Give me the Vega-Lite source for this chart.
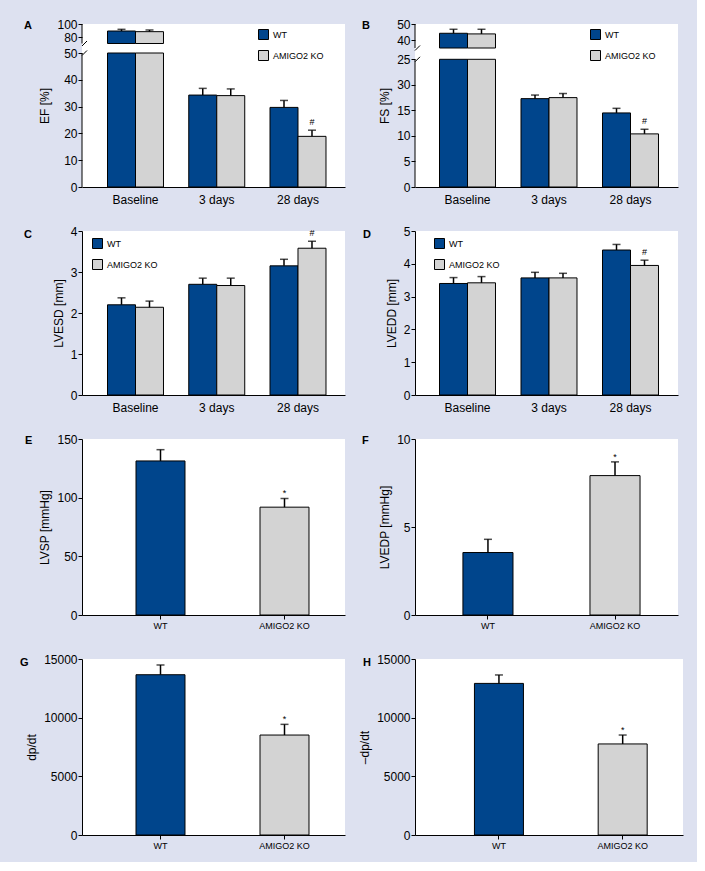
{
  "$schema": "https://vega.github.io/schema/vega-lite/v6.json",
  "background": "#dde1f0",
  "padding": {"left": 20, "top": 18, "right": 14, "bottom": 12},
  "columns": 2,
  "bounds": "flush",
  "align": "none",
  "spacing": {"row": 44, "column": 70},
  "resolve": {"scale": {"color": "independent"}, "legend": {"color": "independent"}},
  "config": {
    "view": {"fill": "white", "stroke": null},
    "font": "Liberation Sans",
    "axis": {"domainColor": "black", "tickColor": "black", "labelColor": "black", "titleColor": "black", "grid": false, "labelFont": "Liberation Sans", "labelFontSize": 12, "labelOverlap": false, "labelSeparation": 0, "titleFont": "Liberation Sans", "titleFontSize": 12, "titleFontWeight": "normal", "tickSize": 4, "labelPadding": 1, "titlePadding": 5},
    "axisY": {"labelOverlap": false},
    "axisQuantitative": {"labelOverlap": false},
    "title": {"font": "Liberation Sans", "fontSize": 11, "fontWeight": "bold", "anchor": "start", "frame": "group", "offset": -13, "color": "black", "baseline": "alphabetic", "dy": 0}
  },
  "datasets": {
    "ef": [
      {"time": "Baseline", "group": "WT", "mean": 89.2, "upper": 91.8, "sig": ""},
      {"time": "Baseline", "group": "AMIGO2 KO", "mean": 88.2, "upper": 90.8, "sig": ""},
      {"time": "3 days", "group": "WT", "mean": 34.3, "upper": 36.8, "sig": ""},
      {"time": "3 days", "group": "AMIGO2 KO", "mean": 34.1, "upper": 36.6, "sig": ""},
      {"time": "28 days", "group": "WT", "mean": 29.7, "upper": 32.3, "sig": ""},
      {"time": "28 days", "group": "AMIGO2 KO", "mean": 18.9, "upper": 21.2, "sig": "#"}
    ],
    "fs": [
      {"time": "Baseline", "group": "WT", "mean": 44.2, "upper": 46.7, "sig": ""},
      {"time": "Baseline", "group": "AMIGO2 KO", "mean": 43.8, "upper": 46.7, "sig": ""},
      {"time": "3 days", "group": "WT", "mean": 17.3, "upper": 18.0, "sig": ""},
      {"time": "3 days", "group": "AMIGO2 KO", "mean": 17.5, "upper": 18.3, "sig": ""},
      {"time": "28 days", "group": "WT", "mean": 14.5, "upper": 15.4, "sig": ""},
      {"time": "28 days", "group": "AMIGO2 KO", "mean": 10.4, "upper": 11.3, "sig": "#"}
    ],
    "lvesd": [
      {"time": "Baseline", "group": "WT", "mean": 2.2, "upper": 2.37, "sig": ""},
      {"time": "Baseline", "group": "AMIGO2 KO", "mean": 2.14, "upper": 2.29, "sig": ""},
      {"time": "3 days", "group": "WT", "mean": 2.7, "upper": 2.85, "sig": ""},
      {"time": "3 days", "group": "AMIGO2 KO", "mean": 2.67, "upper": 2.85, "sig": ""},
      {"time": "28 days", "group": "WT", "mean": 3.15, "upper": 3.31, "sig": ""},
      {"time": "28 days", "group": "AMIGO2 KO", "mean": 3.58, "upper": 3.75, "sig": "#"}
    ],
    "lvedd": [
      {"time": "Baseline", "group": "WT", "mean": 3.4, "upper": 3.58, "sig": ""},
      {"time": "Baseline", "group": "AMIGO2 KO", "mean": 3.42, "upper": 3.61, "sig": ""},
      {"time": "3 days", "group": "WT", "mean": 3.57, "upper": 3.74, "sig": ""},
      {"time": "3 days", "group": "AMIGO2 KO", "mean": 3.57, "upper": 3.71, "sig": ""},
      {"time": "28 days", "group": "WT", "mean": 4.42, "upper": 4.59, "sig": ""},
      {"time": "28 days", "group": "AMIGO2 KO", "mean": 3.95, "upper": 4.11, "sig": "#"}
    ],
    "lvsp": [
      {"group": "WT", "mean": 131.3, "upper": 140.9, "sig": ""},
      {"group": "AMIGO2 KO", "mean": 91.9, "upper": 99.3, "sig": "*"}
    ],
    "lvedp": [
      {"group": "WT", "mean": 3.55, "upper": 4.3, "sig": ""},
      {"group": "AMIGO2 KO", "mean": 7.92, "upper": 8.7, "sig": "*"}
    ],
    "dpdt": [
      {"group": "WT", "mean": 13660, "upper": 14490, "sig": ""},
      {"group": "AMIGO2 KO", "mean": 8520, "upper": 9430, "sig": "*"}
    ],
    "mdpdt": [
      {"group": "WT", "mean": 12920, "upper": 13640, "sig": ""},
      {"group": "AMIGO2 KO", "mean": 7760, "upper": 8520, "sig": "*"}
    ]
  },
  "concat": [
    {
      "width": 263, "height": 163,
      "title": {"text": "A", "dx": -58},
      "layer": [
        {
          "data": {"name": "ef"},
          "encoding": {
            "x": {"field": "time", "type": "nominal", "sort": ["Baseline", "3 days", "28 days"], "title": null, "scale": {"paddingInner": 0.311, "paddingOuter": 0.274, "align": 0.573}, "axis": {"labelAngle": 0, "ticks": false, "tickSize": 0, "labelFontSize": 12, "labelPadding": 7}},
            "xOffset": {"field": "group", "type": "nominal", "sort": ["WT", "AMIGO2 KO"]}
          },
          "layer": [
            {"transform": [{"filter": "datum.mean <= 50"}], "mark": {"type": "bar", "stroke": "black", "strokeWidth": 1},
             "encoding": {"y": {"field": "mean", "type": "quantitative", "title": "EF [%]", "stack": null, "scale": {"domain": [0, 50, 70, 100], "range": [163, 29, 19.5, 0], "nice": false, "zero": false}, "axis": {"values": [0, 10, 20, 30, 40, 50, 80, 100], "domain": false, "labelOverlap": false}}, "y2": {"datum": 0},
                          "color": {"field": "group", "type": "nominal", "scale": {"domain": ["WT", "AMIGO2 KO"], "range": ["#00458c", "#d3d3d3"]}, "legend": {"title": null, "orient": "none", "legendX": 176, "legendY": 5, "symbolType": "square", "symbolSize": 100, "symbolStrokeColor": "black", "symbolStrokeWidth": 1, "labelFontSize": 9, "labelOffset": 4, "rowPadding": 6, "padding": 0}}}},
            {"transform": [{"filter": "datum.mean > 50"}], "mark": {"type": "bar", "stroke": "black", "strokeWidth": 1},
             "encoding": {"y": {"datum": 50, "type": "quantitative", "title": "EF [%]", "axis": {"values": [0, 10, 20, 30, 40, 50, 80, 100], "domain": false, "labelOverlap": false}}, "y2": {"datum": 0},
                          "color": {"field": "group", "type": "nominal", "scale": {"domain": ["WT", "AMIGO2 KO"], "range": ["#00458c", "#d3d3d3"]}, "legend": {"title": null, "orient": "none", "legendX": 176, "legendY": 5, "symbolType": "square", "symbolSize": 100, "symbolStrokeColor": "black", "symbolStrokeWidth": 1, "labelFontSize": 9, "labelOffset": 4, "rowPadding": 6, "padding": 0}}}},
            {"transform": [{"filter": "datum.mean > 70"}], "mark": {"type": "bar", "stroke": "black", "strokeWidth": 1},
             "encoding": {"y": {"field": "mean", "type": "quantitative", "title": "EF [%]", "stack": null, "axis": {"values": [0, 10, 20, 30, 40, 50, 80, 100], "domain": false, "labelOverlap": false}}, "y2": {"datum": 70},
                          "color": {"field": "group", "type": "nominal", "scale": {"domain": ["WT", "AMIGO2 KO"], "range": ["#00458c", "#d3d3d3"]}, "legend": {"title": null, "orient": "none", "legendX": 176, "legendY": 5, "symbolType": "square", "symbolSize": 100, "symbolStrokeColor": "black", "symbolStrokeWidth": 1, "labelFontSize": 9, "labelOffset": 4, "rowPadding": 6, "padding": 0}}}},
            {"mark": {"type": "rule", "color": "black", "strokeWidth": 1.5}, "encoding": {"y": {"field": "mean", "type": "quantitative", "title": "EF [%]", "axis": {"values": [0, 10, 20, 30, 40, 50, 80, 100], "domain": false, "labelOverlap": false}}, "y2": {"field": "upper"}}},
            {"mark": {"type": "tick", "color": "black", "size": 8, "thickness": 1.5, "orient": "horizontal"}, "encoding": {"y": {"field": "upper", "type": "quantitative", "title": "EF [%]", "axis": {"values": [0, 10, 20, 30, 40, 50, 80, 100], "domain": false, "labelOverlap": false}}}},
            {"transform": [{"filter": "datum.sig != ''"}], "mark": {"type": "text", "color": "black", "fontSize": 9, "dy": -5, "baseline": "alphabetic"}, "encoding": {"y": {"field": "upper", "type": "quantitative", "title": "EF [%]", "axis": {"values": [0, 10, 20, 30, 40, 50, 80, 100], "domain": false, "labelOverlap": false}}, "text": {"field": "sig"}}}
          ]
        },
        {"data": {"values": [{}]}, "mark": {"type": "rule", "color": "black", "strokeWidth": 1}, "encoding": {"x": {"value": 0}, "y": {"datum": 0, "type": "quantitative", "axis": {"values": [0, 10, 20, 30, 40, 50, 80, 100], "domain": false, "labelOverlap": false}}, "y2": {"datum": 50}}},
        {"data": {"values": [{}]}, "mark": {"type": "rule", "color": "black", "strokeWidth": 1}, "encoding": {"x": {"value": 0}, "y": {"datum": 70, "type": "quantitative", "axis": {"values": [0, 10, 20, 30, 40, 50, 80, 100], "domain": false, "labelOverlap": false}}, "y2": {"datum": 100}}},
        {"data": {"values": [{}]}, "mark": {"type": "point", "shape": "M0,0.5L1,-0.5", "size": 100, "filled": false, "stroke": "black", "strokeWidth": 1, "opacity": 1}, "encoding": {"x": {"value": 0}, "y": {"datum": 50, "type": "quantitative", "axis": {"values": [0, 10, 20, 30, 40, 50, 80, 100], "domain": false, "labelOverlap": false}}}},
        {"data": {"values": [{}]}, "mark": {"type": "point", "shape": "M0,0.5L1,-0.5", "size": 100, "filled": false, "stroke": "black", "strokeWidth": 1, "opacity": 1}, "encoding": {"x": {"value": 0}, "y": {"datum": 70, "type": "quantitative", "axis": {"values": [0, 10, 20, 30, 40, 50, 80, 100], "domain": false, "labelOverlap": false}}}}
      ]
    },
    {
      "width": 263, "height": 163,
      "title": {"text": "B", "dx": -53},
      "layer": [
        {
          "data": {"name": "fs"},
          "encoding": {
            "x": {"field": "time", "type": "nominal", "sort": ["Baseline", "3 days", "28 days"], "title": null, "scale": {"paddingInner": 0.313, "paddingOuter": 0.27, "align": 0.557}, "axis": {"labelAngle": 0, "ticks": false, "tickSize": 0, "labelFontSize": 12, "labelPadding": 7}},
            "xOffset": {"field": "group", "type": "nominal", "sort": ["WT", "AMIGO2 KO"]}
          },
          "layer": [
            {"transform": [{"filter": "datum.mean <= 25"}], "mark": {"type": "bar", "stroke": "black", "strokeWidth": 1},
             "encoding": {"y": {"field": "mean", "type": "quantitative", "title": "FS [%]", "stack": null, "scale": {"domain": [0, 25, 35, 50], "range": [163, 35.3, 24, 0], "nice": false, "zero": false}, "axis": {"values": [0, 5, 10, 15, 20, 25, 40, 50], "domain": false, "labelOverlap": false, "labelExpr": "datum.value == 20 ? '30' : datum.label"}}, "y2": {"datum": 0},
                          "color": {"field": "group", "type": "nominal", "scale": {"domain": ["WT", "AMIGO2 KO"], "range": ["#00458c", "#d3d3d3"]}, "legend": {"title": null, "orient": "none", "legendX": 175, "legendY": 5, "symbolType": "square", "symbolSize": 100, "symbolStrokeColor": "black", "symbolStrokeWidth": 1, "labelFontSize": 9, "labelOffset": 4, "rowPadding": 6, "padding": 0}}}},
            {"transform": [{"filter": "datum.mean > 25"}], "mark": {"type": "bar", "stroke": "black", "strokeWidth": 1},
             "encoding": {"y": {"datum": 25, "type": "quantitative", "title": "FS [%]", "axis": {"values": [0, 5, 10, 15, 20, 25, 40, 50], "domain": false, "labelOverlap": false, "labelExpr": "datum.value == 20 ? '30' : datum.label"}}, "y2": {"datum": 0},
                          "color": {"field": "group", "type": "nominal", "scale": {"domain": ["WT", "AMIGO2 KO"], "range": ["#00458c", "#d3d3d3"]}, "legend": {"title": null, "orient": "none", "legendX": 175, "legendY": 5, "symbolType": "square", "symbolSize": 100, "symbolStrokeColor": "black", "symbolStrokeWidth": 1, "labelFontSize": 9, "labelOffset": 4, "rowPadding": 6, "padding": 0}}}},
            {"transform": [{"filter": "datum.mean > 35"}], "mark": {"type": "bar", "stroke": "black", "strokeWidth": 1},
             "encoding": {"y": {"field": "mean", "type": "quantitative", "title": "FS [%]", "stack": null, "axis": {"values": [0, 5, 10, 15, 20, 25, 40, 50], "domain": false, "labelOverlap": false, "labelExpr": "datum.value == 20 ? '30' : datum.label"}}, "y2": {"datum": 35},
                          "color": {"field": "group", "type": "nominal", "scale": {"domain": ["WT", "AMIGO2 KO"], "range": ["#00458c", "#d3d3d3"]}, "legend": {"title": null, "orient": "none", "legendX": 175, "legendY": 5, "symbolType": "square", "symbolSize": 100, "symbolStrokeColor": "black", "symbolStrokeWidth": 1, "labelFontSize": 9, "labelOffset": 4, "rowPadding": 6, "padding": 0}}}},
            {"mark": {"type": "rule", "color": "black", "strokeWidth": 1.5}, "encoding": {"y": {"field": "mean", "type": "quantitative", "title": "FS [%]", "axis": {"values": [0, 5, 10, 15, 20, 25, 40, 50], "domain": false, "labelOverlap": false, "labelExpr": "datum.value == 20 ? '30' : datum.label"}}, "y2": {"field": "upper"}}},
            {"mark": {"type": "tick", "color": "black", "size": 8, "thickness": 1.5, "orient": "horizontal"}, "encoding": {"y": {"field": "upper", "type": "quantitative", "title": "FS [%]", "axis": {"values": [0, 5, 10, 15, 20, 25, 40, 50], "domain": false, "labelOverlap": false, "labelExpr": "datum.value == 20 ? '30' : datum.label"}}}},
            {"transform": [{"filter": "datum.sig != ''"}], "mark": {"type": "text", "color": "black", "fontSize": 9, "dy": -5, "baseline": "alphabetic"}, "encoding": {"y": {"field": "upper", "type": "quantitative", "title": "FS [%]", "axis": {"values": [0, 5, 10, 15, 20, 25, 40, 50], "domain": false, "labelOverlap": false, "labelExpr": "datum.value == 20 ? '30' : datum.label"}}, "text": {"field": "sig"}}}
          ]
        },
        {"data": {"values": [{}]}, "mark": {"type": "rule", "color": "black", "strokeWidth": 1}, "encoding": {"x": {"value": 0}, "y": {"datum": 0, "type": "quantitative", "axis": {"values": [0, 5, 10, 15, 20, 25, 40, 50], "domain": false, "labelOverlap": false, "labelExpr": "datum.value == 20 ? '30' : datum.label"}}, "y2": {"datum": 25}}},
        {"data": {"values": [{}]}, "mark": {"type": "rule", "color": "black", "strokeWidth": 1}, "encoding": {"x": {"value": 0}, "y": {"datum": 35, "type": "quantitative", "axis": {"values": [0, 5, 10, 15, 20, 25, 40, 50], "domain": false, "labelOverlap": false, "labelExpr": "datum.value == 20 ? '30' : datum.label"}}, "y2": {"datum": 50}}},
        {"data": {"values": [{}]}, "mark": {"type": "point", "shape": "M0,0.5L1,-0.5", "size": 100, "filled": false, "stroke": "black", "strokeWidth": 1, "opacity": 1}, "encoding": {"x": {"value": 0}, "y": {"datum": 25, "type": "quantitative", "axis": {"values": [0, 5, 10, 15, 20, 25, 40, 50], "domain": false, "labelOverlap": false, "labelExpr": "datum.value == 20 ? '30' : datum.label"}}}},
        {"data": {"values": [{}]}, "mark": {"type": "point", "shape": "M0,0.5L1,-0.5", "size": 100, "filled": false, "stroke": "black", "strokeWidth": 1, "opacity": 1}, "encoding": {"x": {"value": 0}, "y": {"datum": 35, "type": "quantitative", "axis": {"values": [0, 5, 10, 15, 20, 25, 40, 50], "domain": false, "labelOverlap": false, "labelExpr": "datum.value == 20 ? '30' : datum.label"}}}}
      ]
    },
    {
      "width": 263, "height": 164,
      "title": {"text": "C", "dx": -58, "offset": -15},
      "data": {"name": "lvesd"},
      "encoding": {
        "x": {"field": "time", "type": "nominal", "sort": ["Baseline", "3 days", "28 days"], "title": null, "scale": {"paddingInner": 0.311, "paddingOuter": 0.274, "align": 0.573}, "axis": {"labelAngle": 0, "ticks": false, "tickSize": 0, "labelFontSize": 12, "labelPadding": 7}},
        "xOffset": {"field": "group", "type": "nominal", "sort": ["WT", "AMIGO2 KO"]}
      },
      "layer": [
        {"mark": {"type": "bar", "stroke": "black", "strokeWidth": 1},
         "encoding": {"y": {"field": "mean", "type": "quantitative", "title": "LVESD [mm]", "stack": null, "scale": {"domain": [0, 4], "nice": false}, "axis": {"values": [0, 1, 2, 3, 4], "labelOverlap": false}},
                      "color": {"field": "group", "type": "nominal", "scale": {"domain": ["WT", "AMIGO2 KO"], "range": ["#00458c", "#d3d3d3"]}, "legend": {"title": null, "orient": "none", "legendX": 10, "legendY": 7, "symbolType": "square", "symbolSize": 100, "symbolStrokeColor": "black", "symbolStrokeWidth": 1, "labelFontSize": 9, "labelOffset": 4, "rowPadding": 6, "padding": 0}}}},
        {"mark": {"type": "rule", "color": "black", "strokeWidth": 1.5}, "encoding": {"y": {"field": "mean", "type": "quantitative", "title": "LVESD [mm]", "axis": {"values": [0, 1, 2, 3, 4], "labelOverlap": false}}, "y2": {"field": "upper"}}},
        {"mark": {"type": "tick", "color": "black", "size": 8, "thickness": 1.5, "orient": "horizontal"}, "encoding": {"y": {"field": "upper", "type": "quantitative", "title": "LVESD [mm]", "axis": {"values": [0, 1, 2, 3, 4], "labelOverlap": false}}}},
        {"transform": [{"filter": "datum.sig != ''"}], "mark": {"type": "text", "color": "black", "fontSize": 9, "dy": -5, "baseline": "alphabetic"}, "encoding": {"y": {"field": "upper", "type": "quantitative", "title": "LVESD [mm]", "axis": {"values": [0, 1, 2, 3, 4], "labelOverlap": false}}, "text": {"field": "sig"}}}
      ]
    },
    {
      "width": 263, "height": 164,
      "title": {"text": "D", "dx": -52, "offset": -15},
      "data": {"name": "lvedd"},
      "encoding": {
        "x": {"field": "time", "type": "nominal", "sort": ["Baseline", "3 days", "28 days"], "title": null, "scale": {"paddingInner": 0.313, "paddingOuter": 0.27, "align": 0.557}, "axis": {"labelAngle": 0, "ticks": false, "tickSize": 0, "labelFontSize": 12, "labelPadding": 7}},
        "xOffset": {"field": "group", "type": "nominal", "sort": ["WT", "AMIGO2 KO"]}
      },
      "layer": [
        {"mark": {"type": "bar", "stroke": "black", "strokeWidth": 1},
         "encoding": {"y": {"field": "mean", "type": "quantitative", "title": "LVEDD [mm]", "stack": null, "scale": {"domain": [0, 5], "nice": false}, "axis": {"values": [0, 1, 2, 3, 4, 5], "labelOverlap": false}},
                      "color": {"field": "group", "type": "nominal", "scale": {"domain": ["WT", "AMIGO2 KO"], "range": ["#00458c", "#d3d3d3"]}, "legend": {"title": null, "orient": "none", "legendX": 19, "legendY": 7, "symbolType": "square", "symbolSize": 100, "symbolStrokeColor": "black", "symbolStrokeWidth": 1, "labelFontSize": 9, "labelOffset": 4, "rowPadding": 6, "padding": 0}}}},
        {"mark": {"type": "rule", "color": "black", "strokeWidth": 1.5}, "encoding": {"y": {"field": "mean", "type": "quantitative", "title": "LVEDD [mm]", "axis": {"values": [0, 1, 2, 3, 4, 5], "labelOverlap": false}}, "y2": {"field": "upper"}}},
        {"mark": {"type": "tick", "color": "black", "size": 8, "thickness": 1.5, "orient": "horizontal"}, "encoding": {"y": {"field": "upper", "type": "quantitative", "title": "LVEDD [mm]", "axis": {"values": [0, 1, 2, 3, 4, 5], "labelOverlap": false}}}},
        {"transform": [{"filter": "datum.sig != ''"}], "mark": {"type": "text", "color": "black", "fontSize": 9, "dy": -5, "baseline": "alphabetic"}, "encoding": {"y": {"field": "upper", "type": "quantitative", "title": "LVEDD [mm]", "axis": {"values": [0, 1, 2, 3, 4, 5], "labelOverlap": false}}, "text": {"field": "sig"}}}
      ]
    },
    {
      "width": 263, "height": 176,
      "title": {"text": "E", "dx": -57},
      "data": {"name": "lvsp"},
      "encoding": {
        "x": {"field": "group", "type": "nominal", "sort": ["WT", "AMIGO2 KO"], "title": null, "scale": {"paddingInner": 0.605, "paddingOuter": 0.363, "align": 0.6}, "axis": {"labelAngle": 0, "tickSize": 4, "labelFontSize": 9, "labelPadding": 2}}
      },
      "layer": [
        {"mark": {"type": "bar", "stroke": "black", "strokeWidth": 1},
         "encoding": {"y": {"field": "mean", "type": "quantitative", "title": "LVSP [mmHg]", "stack": null, "scale": {"domain": [0, 150], "nice": false}, "axis": {"values": [0, 50, 100, 150]}},
                      "color": {"field": "group", "type": "nominal", "scale": {"domain": ["WT", "AMIGO2 KO"], "range": ["#00458c", "#d3d3d3"]}, "legend": null}}},
        {"mark": {"type": "rule", "color": "black", "strokeWidth": 1.5}, "encoding": {"y": {"field": "mean", "type": "quantitative", "title": "LVSP [mmHg]"}, "y2": {"field": "upper"}}},
        {"mark": {"type": "tick", "color": "black", "size": 8, "thickness": 1.5, "orient": "horizontal"}, "encoding": {"y": {"field": "upper", "type": "quantitative", "title": "LVSP [mmHg]"}}},
        {"transform": [{"filter": "datum.sig != ''"}], "mark": {"type": "text", "color": "black", "fontSize": 9, "dy": -2, "baseline": "alphabetic"}, "encoding": {"y": {"field": "upper", "type": "quantitative", "title": "LVSP [mmHg]"}, "text": {"field": "sig"}}}
      ]
    },
    {
      "width": 263, "height": 176,
      "title": {"text": "F", "dx": -53},
      "data": {"name": "lvedp"},
      "encoding": {
        "x": {"field": "group", "type": "nominal", "sort": ["WT", "AMIGO2 KO"], "title": null, "scale": {"paddingInner": 0.606, "paddingOuter": 0.338, "align": 0.558}, "axis": {"labelAngle": 0, "tickSize": 4, "labelFontSize": 9, "labelPadding": 2}}
      },
      "layer": [
        {"mark": {"type": "bar", "stroke": "black", "strokeWidth": 1},
         "encoding": {"y": {"field": "mean", "type": "quantitative", "title": "LVEDP [mmHg]", "stack": null, "scale": {"domain": [0, 10], "nice": false}, "axis": {"values": [0, 5, 10]}},
                      "color": {"field": "group", "type": "nominal", "scale": {"domain": ["WT", "AMIGO2 KO"], "range": ["#00458c", "#d3d3d3"]}, "legend": null}}},
        {"mark": {"type": "rule", "color": "black", "strokeWidth": 1.5}, "encoding": {"y": {"field": "mean", "type": "quantitative", "title": "LVEDP [mmHg]"}, "y2": {"field": "upper"}}},
        {"mark": {"type": "tick", "color": "black", "size": 8, "thickness": 1.5, "orient": "horizontal"}, "encoding": {"y": {"field": "upper", "type": "quantitative", "title": "LVEDP [mmHg]"}}},
        {"transform": [{"filter": "datum.sig != ''"}], "mark": {"type": "text", "color": "black", "fontSize": 9, "dy": -2, "baseline": "alphabetic"}, "encoding": {"y": {"field": "upper", "type": "quantitative", "title": "LVEDP [mmHg]"}, "text": {"field": "sig"}}}
      ]
    },
    {
      "width": 263, "height": 176,
      "title": {"text": "G", "dx": -62, "offset": -15},
      "data": {"name": "dpdt"},
      "encoding": {
        "x": {"field": "group", "type": "nominal", "sort": ["WT", "AMIGO2 KO"], "title": null, "scale": {"paddingInner": 0.605, "paddingOuter": 0.363, "align": 0.6}, "axis": {"labelAngle": 0, "tickSize": 4, "labelFontSize": 9, "labelPadding": 2}}
      },
      "layer": [
        {"mark": {"type": "bar", "stroke": "black", "strokeWidth": 1},
         "encoding": {"y": {"field": "mean", "type": "quantitative", "title": "dp/dt", "stack": null, "scale": {"domain": [0, 15000], "nice": false}, "axis": {"values": [0, 5000, 10000, 15000], "format": "d"}},
                      "color": {"field": "group", "type": "nominal", "scale": {"domain": ["WT", "AMIGO2 KO"], "range": ["#00458c", "#d3d3d3"]}, "legend": null}}},
        {"mark": {"type": "rule", "color": "black", "strokeWidth": 1.5}, "encoding": {"y": {"field": "mean", "type": "quantitative", "title": "dp/dt"}, "y2": {"field": "upper"}}},
        {"mark": {"type": "tick", "color": "black", "size": 8, "thickness": 1.5, "orient": "horizontal"}, "encoding": {"y": {"field": "upper", "type": "quantitative", "title": "dp/dt"}}},
        {"transform": [{"filter": "datum.sig != ''"}], "mark": {"type": "text", "color": "black", "fontSize": 9, "dy": -2, "baseline": "alphabetic"}, "encoding": {"y": {"field": "upper", "type": "quantitative", "title": "dp/dt"}, "text": {"field": "sig"}}}
      ]
    },
    {
      "width": 268, "height": 176,
      "title": {"text": "H", "dx": -52, "offset": -15},
      "data": {"name": "mdpdt"},
      "encoding": {
        "x": {"field": "group", "type": "nominal", "sort": ["WT", "AMIGO2 KO"], "title": null, "scale": {"paddingInner": 0.604, "paddingOuter": 0.385, "align": 0.624}, "axis": {"labelAngle": 0, "tickSize": 4, "labelFontSize": 9, "labelPadding": 2}}
      },
      "layer": [
        {"mark": {"type": "bar", "stroke": "black", "strokeWidth": 1},
         "encoding": {"y": {"field": "mean", "type": "quantitative", "title": "–dp/dt", "stack": null, "scale": {"domain": [0, 15000], "nice": false}, "axis": {"values": [0, 5000, 10000, 15000], "format": "d"}},
                      "color": {"field": "group", "type": "nominal", "scale": {"domain": ["WT", "AMIGO2 KO"], "range": ["#00458c", "#d3d3d3"]}, "legend": null}}},
        {"mark": {"type": "rule", "color": "black", "strokeWidth": 1.5}, "encoding": {"y": {"field": "mean", "type": "quantitative", "title": "–dp/dt"}, "y2": {"field": "upper"}}},
        {"mark": {"type": "tick", "color": "black", "size": 8, "thickness": 1.5, "orient": "horizontal"}, "encoding": {"y": {"field": "upper", "type": "quantitative", "title": "–dp/dt"}}},
        {"transform": [{"filter": "datum.sig != ''"}], "mark": {"type": "text", "color": "black", "fontSize": 9, "dy": -2, "baseline": "alphabetic"}, "encoding": {"y": {"field": "upper", "type": "quantitative", "title": "–dp/dt"}, "text": {"field": "sig"}}}
      ]
    }
  ]
}
